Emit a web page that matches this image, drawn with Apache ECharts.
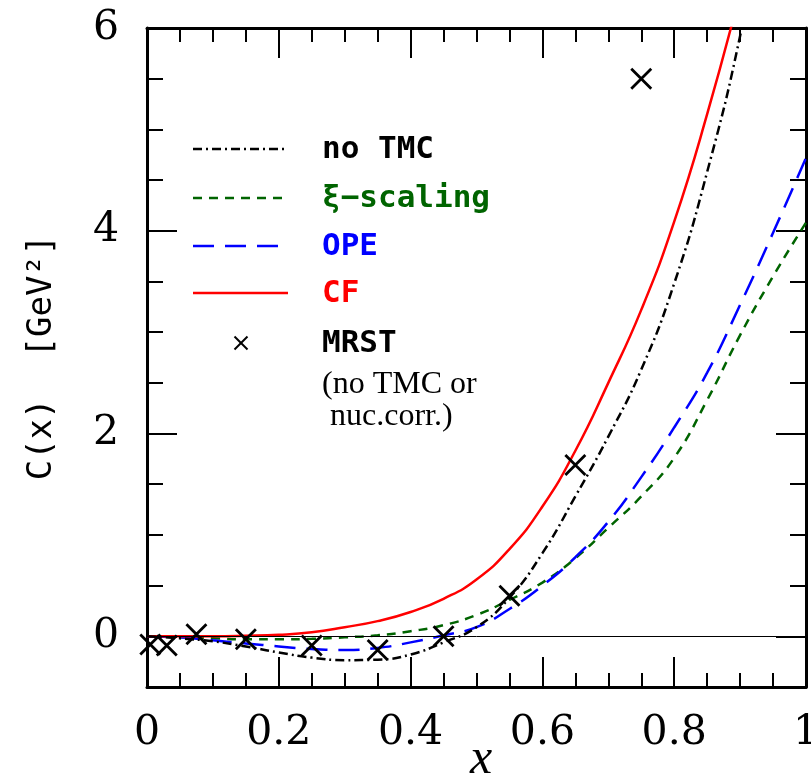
<!DOCTYPE html>
<html>
<head>
<meta charset="utf-8">
<script src="https://cdn.jsdelivr.net/npm/echarts@6/dist/echarts.min.js"></script>
<style>
  html, body { margin: 0; padding: 0; background: #fff; }
  #chart { width: 811px; height: 773px; }
</style>
</head>
<body>
<div id="chart"></div>
<script>
// Bjorken x grid for the model curves
const xGrid = [0, 0.05, 0.1, 0.15, 0.2, 0.25, 0.3, 0.35, 0.4, 0.45, 0.5,
               0.55, 0.6, 0.65, 0.7, 0.75, 0.8, 0.85, 0.9, 0.95, 1.0];

// C(x) in GeV^2 for each treatment of target-mass corrections
const noTMC     = [0, -0.02, -0.05, -0.10, -0.16, -0.21, -0.235, -0.23, -0.18, -0.06, 0.09,
                   0.38, 0.82, 1.38, 1.97, 2.63, 3.48, 4.58, 5.92, 7.6];
const xiScaling = [0, -0.01, -0.02, -0.03, -0.03, -0.025, -0.01, 0.01, 0.05, 0.11, 0.21,
                   0.36, 0.53, 0.77, 1.07, 1.38, 1.76, 2.33, 2.97, 3.55, 4.08];
const ope       = [0, -0.01, -0.04, -0.07, -0.10, -0.125, -0.135, -0.115, -0.06, 0.01, 0.09,
                   0.27, 0.50, 0.78, 1.13, 1.57, 2.06, 2.60, 3.27, 3.98, 4.72];
const cf        = [0, 0, 0, 0.005, 0.015, 0.04, 0.09, 0.15, 0.24, 0.37, 0.56,
                   0.86, 1.28, 1.83, 2.50, 3.22, 4.09, 5.15, 6.35];

// MRST points (no TMC or nuclear corrections)
const mrstX = [0.005, 0.03, 0.075, 0.15, 0.25, 0.35, 0.45, 0.55, 0.65, 0.75];
const mrstY = [-0.08, -0.09, 0.02, -0.03, -0.09, -0.135, 0.0, 0.40, 1.69, 5.5];

// Axis labels and tick values
const xTickValues = [0, 0.2, 0.4, 0.6, 0.8, 1];
const xTickLabels = ['0', '0.2', '0.4', '0.6', '0.8', '1'];
const xMinorSplit = 4;
const yTickLabels = [0, 2, 4, 6];

const pairs = (xs, ys) => ys.map((y, i) => [xs[i], y]);

const serif = 'DejaVu Serif';
const mono = 'DejaVu Sans Mono';

// Plot frame geometry and axis ranges
const chartH = 773;
const gridLeft = 147, gridRight = 5, gridTop = 28, gridBottom = 86;
const xMin = 0, xMax = 1, yMin = -0.5, yMax = 6;

// Curve styles shared by the plot and the key
const styles = {
  noTMC: { name: 'no TMC',    color: '#000000', dash: [9, 4, 2, 4] },
  xi:    { name: 'ξ−scaling', color: '#006400', dash: [9, 7] },
  ope:   { name: 'OPE',       color: '#0000ff', dash: [21, 11] },
  cf:    { name: 'CF',        color: '#ff0000', dash: null }
};
const curveWidth = 2.5;
const majorLen = 30, minorLenX = 14, tickWidth = 2;

const frame = () => ({ show: true, onZero: false, lineStyle: { color: '#000', width: 3 } });
const noLine = () => ({ show: false, onZero: false });
const tickStyle = () => ({ color: '#000', width: tickWidth });

function xLabelText(v) {
  for (let i = 0; i < xTickValues.length; i++) {
    if (Math.abs(xTickValues[i] - v) < 1e-9) return xTickLabels[i];
  }
  return '';
}

function xFrameDef(pos, labels) {
  return {
    type: 'value', position: pos, min: xMin, max: xMax, interval: 0.2,
    axisLine: frame(),
    axisTick: { show: false },
    splitLine: { show: false },
    axisLabel: labels ? {
      show: true, margin: 26, color: '#000', fontFamily: serif, fontSize: 41,
      formatter: xLabelText
    } : { show: false }
  };
}

function yMinorDef(pos, labels) {
  return {
    type: 'value', position: pos, min: yMin, max: yMax, interval: 0.5,
    axisLine: frame(),
    axisTick: { show: true, inside: true, length: 16, lineStyle: tickStyle() },
    splitLine: { show: false },
    axisLabel: labels ? {
      show: true, margin: 28, color: '#000', fontFamily: serif, fontSize: 41,
      formatter: v => yTickLabels.some(t => Math.abs(t - v) < 1e-9) ? String(Math.round(v)) : ''
    } : { show: false }
  };
}

function yMajorDef(pos) {
  return {
    type: 'value', position: pos, min: yMin, max: yMax,
    axisLine: noLine(),
    axisTick: { show: true, inside: true, length: majorLen, customValues: yTickLabels, lineStyle: tickStyle() },
    splitLine: { show: false },
    axisLabel: { show: false }
  };
}

const xBottom = xFrameDef('bottom', true);
xBottom.name = 'x';
xBottom.nameLocation = 'middle';
xBottom.nameGap = 48;
xBottom.nameMoveOverlap = false;
xBottom.nameTextStyle = { fontFamily: 'Liberation Serif', fontStyle: 'italic', fontSize: 50,
                          color: '#000', padding: [0, 0, 0, 9] };

const yLeft = yMinorDef('left', true);
yLeft.name = 'C(x)  [GeV²]';
yLeft.nameLocation = 'middle';
yLeft.nameRotate = 90;
yLeft.nameGap = 88;
yLeft.nameMoveOverlap = false;
yLeft.nameTextStyle = { fontFamily: mono, fontSize: 34, color: '#000' };

function curve(key, data, z) {
  const s = styles[key];
  return {
    name: s.name, type: 'line', data: data, xAxisIndex: 0, yAxisIndex: 0,
    showSymbol: false, symbol: 'none', smooth: 0.5, clip: true, z: z,
    lineStyle: { color: s.color, width: curveWidth, type: s.dash || 'solid' },
    itemStyle: { color: s.color }
  };
}

// Key drawn in the upper-left of the plot
const keyLeft = 193, keyRight = 288, keyText = 322;
const keyRows = [149, 198, 246, 293];
const keyFont = 'bold 31px "DejaVu Sans Mono"';
const keyGraphics = [];
['noTMC', 'xi', 'ope', 'cf'].forEach((key, i) => {
  const s = styles[key];
  keyGraphics.push({
    type: 'line', silent: true,
    shape: { x1: keyLeft, y1: keyRows[i], x2: keyRight, y2: keyRows[i] },
    style: { stroke: s.color, lineWidth: curveWidth, lineDash: s.dash || null }
  });
  keyGraphics.push({
    type: 'text', silent: true, x: keyText, y: keyRows[i] + 1,
    style: { text: s.name, fill: s.color, font: keyFont, verticalAlign: 'middle' }
  });
});
const crossX = 241, crossY = 343, crossR = 6.5;
keyGraphics.push(
  { type: 'line', silent: true,
    shape: { x1: crossX - crossR, y1: crossY - crossR, x2: crossX + crossR, y2: crossY + crossR },
    style: { stroke: '#000', lineWidth: 2 } },
  { type: 'line', silent: true,
    shape: { x1: crossX + crossR, y1: crossY - crossR, x2: crossX - crossR, y2: crossY + crossR },
    style: { stroke: '#000', lineWidth: 2 } },
  { type: 'text', silent: true, x: keyText, y: crossY + 1,
    style: { text: 'MRST', fill: '#000', font: keyFont, verticalAlign: 'middle' } },
  { type: 'text', silent: true, x: keyText, y: 369,
    style: { text: '(no TMC or\n nuc.corr.)', font: '32px "Liberation Serif"', lineHeight: 32, fill: '#000' } }
);

// Inward ticks on the bottom and top frame edges, as short segments in data
// coordinates (tick length converted from pixels to y units)
const yUnitsPerPx = (yMax - yMin) / (chartH - gridTop - gridBottom);
const frameTicks = [];
function addTick(v, lenPx) {
  const dy = lenPx * yUnitsPerPx;
  frameTicks.push(
    [{ coord: [v, yMin] }, { coord: [v, yMin + dy] }],
    [{ coord: [v, yMax] }, { coord: [v, yMax - dy] }]
  );
}
xTickValues.forEach((v, i) => {
  if (i > 0 && i < xTickValues.length - 1) addTick(v, majorLen);
  if (i < xTickValues.length - 1) {
    const step = (xTickValues[i + 1] - v) / xMinorSplit;
    for (let k = 1; k < xMinorSplit; k++) addTick(v + k * step, minorLenX);
  }
});

const chart = echarts.init(document.getElementById('chart'), null, { renderer: 'canvas' });

const zeroLine = {
  silent: true, symbol: 'none', label: { show: false },
  lineStyle: { color: '#000', width: 1, type: 'solid' },
  data: [{ yAxis: 0 }]
};
const tickLines = {
  silent: true, symbol: 'none', label: { show: false },
  lineStyle: { color: '#000', width: tickWidth, type: 'solid' },
  data: frameTicks
};

const seriesNoTMC = curve('noTMC', pairs(xGrid, noTMC), 4);
const seriesXi = curve('xi', pairs(xGrid, xiScaling), 3);
seriesXi.markLine = zeroLine;
const seriesOpe = curve('ope', pairs(xGrid, ope), 3);
const seriesCf = curve('cf', pairs(xGrid, cf), 3);
seriesCf.markLine = tickLines;

chart.setOption({
  backgroundColor: '#fff',
  animation: false,
  grid: { left: gridLeft, right: gridRight, top: gridTop, bottom: gridBottom,
          containLabel: false, outerBoundsMode: 'none' },
  xAxis: [xBottom, xFrameDef('top', false)],
  yAxis: [yLeft, yMajorDef('left'), yMinorDef('right', false), yMajorDef('right')],
  graphic: keyGraphics,
  series: [
    seriesNoTMC, seriesXi, seriesOpe, seriesCf,
    {
      name: 'MRST', type: 'scatter', data: pairs(mrstX, mrstY), xAxisIndex: 0, yAxisIndex: 0,
      symbol: 'path://M0,0L10,10M10,0L0,10', symbolSize: 20, symbolKeepAspect: true,
      clip: false, z: 5,
      itemStyle: { color: 'rgba(0,0,0,0)', borderColor: '#000', borderWidth: 2.8, opacity: 1 }
    }
  ]
});
</script>
</body>
</html>
